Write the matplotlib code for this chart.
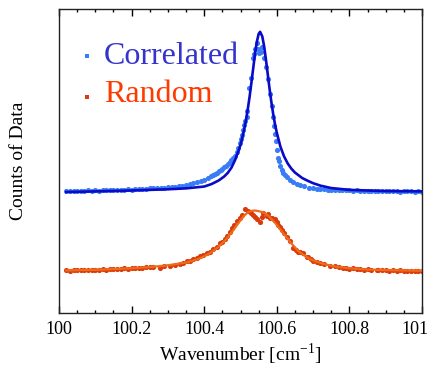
import matplotlib
matplotlib.use("Agg")
import matplotlib.pyplot as plt
from matplotlib.ticker import MultipleLocator
from matplotlib.transforms import ScaledTranslation

plt.rcParams['font.family'] = ['Liberation Serif', 'DejaVu Serif']
plt.rcParams['mathtext.fontset'] = 'custom'
plt.rcParams['mathtext.rm'] = 'Liberation Serif'

# ---------------- data ----------------
corr_x = [100.02, 100.03, 100.04, 100.05, 100.06, 100.07, 100.08, 100.09, 100.10,
          100.11, 100.12, 100.13, 100.14, 100.15, 100.16, 100.17, 100.18, 100.19, 100.20,
          100.21, 100.22, 100.23, 100.24, 100.25, 100.26, 100.27, 100.28, 100.29, 100.30,
          100.31, 100.32, 100.33, 100.34, 100.35, 100.36, 100.37, 100.38, 100.39, 100.40,
          100.41, 100.42, 100.425, 100.43, 100.435, 100.44, 100.445, 100.45, 100.455,
          100.46, 100.465, 100.47, 100.475, 100.48, 100.485, 100.49, 100.494, 100.4986,
          100.5005, 100.504, 100.508, 100.5096, 100.513, 100.517, 100.519, 100.523,
          100.528, 100.5336, 100.537, 100.54, 100.5446, 100.548, 100.552, 100.5565,
          100.56, 100.5656, 100.57, 100.5758, 100.5804, 100.586, 100.589, 100.592,
          100.595, 100.598, 100.601, 100.604, 100.607, 100.61, 100.6135, 100.618,
          100.6226, 100.628, 100.636, 100.645, 100.655, 100.664, 100.675, 100.69, 100.70,
          100.71, 100.72, 100.73, 100.74, 100.75, 100.76, 100.77, 100.78, 100.79, 100.80,
          100.81, 100.82, 100.83, 100.84, 100.85, 100.86, 100.87, 100.88, 100.89, 100.90,
          100.91, 100.92, 100.93, 100.94, 100.95, 100.96, 100.97, 100.98, 100.99, 101.00]
corr_y = [0.401, 0.400, 0.402, 0.401, 0.402, 0.401, 0.403, 0.402, 0.403,
          0.402, 0.404, 0.403, 0.404, 0.405, 0.404, 0.406, 0.405, 0.407, 0.406,
          0.408, 0.407, 0.409, 0.408, 0.410, 0.411, 0.410, 0.412, 0.411, 0.413,
          0.414, 0.416, 0.417, 0.419, 0.421, 0.423, 0.426, 0.430, 0.434, 0.438,
          0.444, 0.451, 0.454, 0.458, 0.462, 0.466, 0.469, 0.474, 0.480,
          0.485, 0.490, 0.497, 0.503, 0.509, 0.516, 0.528, 0.542, 0.558,
          0.571, 0.585, 0.602, 0.618, 0.630, 0.646, 0.665, 0.739,
          0.772, 0.838, 0.852, 0.867, 0.887, 0.870, 0.856, 0.860,
          0.874, 0.838, 0.810, 0.769, 0.720, 0.680, 0.646, 0.615,
          0.590, 0.565, 0.536, 0.510, 0.500, 0.485, 0.470, 0.462,
          0.454, 0.447, 0.438, 0.430, 0.425, 0.421, 0.417, 0.412, 0.410,
          0.409, 0.408, 0.407, 0.406, 0.405, 0.405, 0.404, 0.404, 0.403, 0.403,
          0.402, 0.403, 0.401, 0.402, 0.401, 0.402, 0.400, 0.401, 0.400, 0.401,
          0.400, 0.401, 0.400, 0.399, 0.400, 0.401, 0.400, 0.399, 0.400, 0.399]

corr_fit_x = [100.02, 100.10, 100.20, 100.30, 100.35, 100.40, 100.42, 100.44, 100.455,
              100.465, 100.475, 100.485, 100.495, 100.50, 100.505, 100.51, 100.515,
              100.52, 100.525, 100.53, 100.535, 100.54, 100.545, 100.55, 100.554,
              100.56, 100.565, 100.57, 100.575, 100.58, 100.585, 100.59, 100.595,
              100.60, 100.61, 100.62, 100.63, 100.64, 100.65, 100.67, 100.685, 100.70,
              100.72, 100.75, 100.80, 100.90, 101.00]
corr_fit_y = [0.398, 0.400, 0.403, 0.407, 0.410, 0.416, 0.424, 0.436, 0.449,
              0.461, 0.478, 0.503, 0.535, 0.553, 0.577, 0.603, 0.634,
              0.670, 0.711, 0.757, 0.805, 0.853, 0.892, 0.918, 0.925,
              0.910, 0.878, 0.834, 0.786, 0.738, 0.694, 0.655, 0.621,
              0.593, 0.547, 0.515, 0.492, 0.475, 0.462, 0.444, 0.435, 0.427,
              0.419, 0.411, 0.405, 0.401, 0.400]

rand_x = [100.02, 100.03, 100.04, 100.05, 100.06, 100.07, 100.08, 100.09, 100.10,
          100.11, 100.12, 100.13, 100.14, 100.15, 100.16, 100.17, 100.18, 100.19, 100.20,
          100.21, 100.22, 100.23, 100.24, 100.2507, 100.26, 100.278, 100.29, 100.306,
          100.32, 100.333, 100.342, 100.352, 100.36, 100.37, 100.38, 100.388, 100.397,
          100.407, 100.415, 100.425, 100.435, 100.4435, 100.45, 100.457, 100.464, 100.471,
          100.476, 100.483, 100.4895, 100.4986, 100.505, 100.512, 100.5215, 100.528,
          100.535, 100.54, 100.5446, 100.5537, 100.558, 100.563, 100.572, 100.577,
          100.581, 100.588, 100.595, 100.600, 100.604, 100.609, 100.6135, 100.62,
          100.627, 100.636, 100.645, 100.652, 100.659, 100.664, 100.673, 100.682,
          100.687, 100.695, 100.70, 100.71, 100.72, 100.73, 100.7466, 100.76, 100.77,
          100.783, 100.79, 100.80, 100.81, 100.82, 100.83, 100.84, 100.85, 100.86,
          100.875, 100.88, 100.89, 100.90, 100.91, 100.92, 100.93, 100.94, 100.95,
          100.96, 100.97, 100.98, 100.99, 100.999]
rand_y = [0.141, 0.139, 0.141, 0.140, 0.142, 0.141, 0.142, 0.141, 0.143,
          0.142, 0.144, 0.143, 0.145, 0.144, 0.146, 0.145, 0.147, 0.146, 0.148,
          0.147, 0.149, 0.148, 0.150, 0.152, 0.150, 0.149, 0.153, 0.156,
          0.157, 0.160, 0.164, 0.171, 0.170, 0.178, 0.180, 0.186, 0.190,
          0.197, 0.202, 0.210, 0.218, 0.230, 0.234, 0.244, 0.252, 0.266,
          0.279, 0.290, 0.303, 0.314, 0.322, 0.342, 0.336, 0.330,
          0.322, 0.315, 0.309, 0.300, 0.316, 0.328, 0.320, 0.325,
          0.311, 0.313, 0.309, 0.298, 0.289, 0.282, 0.273, 0.262,
          0.251, 0.237, 0.215, 0.206, 0.201, 0.202, 0.196, 0.185,
          0.184, 0.178, 0.172, 0.169, 0.165, 0.161, 0.155, 0.153, 0.150,
          0.147, 0.148, 0.146, 0.147, 0.144, 0.145, 0.143, 0.144, 0.142,
          0.141, 0.142, 0.140, 0.141, 0.139, 0.140, 0.139, 0.140, 0.138,
          0.139, 0.138, 0.139, 0.137, 0.138]

rand_fit_x = [100.02, 100.10, 100.20, 100.25, 100.30, 100.35, 100.38, 100.40, 100.42,
              100.44, 100.46, 100.48, 100.50, 100.51, 100.52, 100.53, 100.54, 100.55,
              100.56, 100.57, 100.58, 100.60, 100.62, 100.64, 100.66, 100.68, 100.70,
              100.73, 100.76, 100.80, 100.85, 100.90, 101.00]
rand_fit_y = [0.140, 0.142, 0.147, 0.151, 0.157, 0.166, 0.176, 0.186, 0.200,
              0.218, 0.242, 0.272, 0.305, 0.320, 0.331, 0.336, 0.337, 0.335,
              0.332, 0.326, 0.316, 0.290, 0.259, 0.229, 0.203, 0.185, 0.173,
              0.161, 0.153, 0.147, 0.143, 0.141, 0.139]

labels = ["Correlated", "Random"]
x_ticks = [100, 100.2, 100.4, 100.6, 100.8, 101]
x_tick_labels = ["100", "100.2", "100.4", "100.6", "100.8", "101"]

# ---------------- figure ----------------
fig = plt.figure(figsize=(4.34, 3.66), dpi=100)
ax = fig.add_axes([59/434, 53/366, 363/434, 304/366])

c_data = "#3A7CF5"
c_fit = "#0A0AC8"
r_data = "#D93B0A"
r_fit = "#F06A1A"

ax.plot(corr_x, corr_y, 'o', color=c_data, ms=3.7, mew=0, zorder=2)
ax.plot(corr_fit_x, corr_fit_y, '-', color=c_fit, lw=1.9, zorder=3)
ax.plot(rand_x, rand_y, 'o', color=r_data, ms=3.7, mew=0, zorder=2)
ax.plot(rand_fit_x, rand_fit_y, '-', color=r_fit, lw=1.6, zorder=3)

ax.set_xlim(100, 101)
ax.set_ylim(0, 1)
ax.set_xticks(x_ticks)
ax.set_xticklabels(x_tick_labels)
ax.xaxis.set_minor_locator(MultipleLocator(0.05))
ax.tick_params(axis='x', which='both', direction='in', top=True, bottom=True,
               labelsize=13, pad=6)
ax.tick_params(axis='x', which='major', length=5, width=1.0)
ax.tick_params(axis='x', which='minor', length=2.5, width=1.0)
ax.set_yticks([])
for s in ax.spines.values():
    s.set_linewidth(1.0)
    s.set_color('#222222')

# shift last tick label slightly left so it stays inside the figure
last = ax.get_xticklabels()[-1]
last.set_transform(last.get_transform() + ScaledTranslation(-7/100, 0, fig.dpi_scale_trans))

ax.set_ylabel("Counts of Data", fontsize=14, labelpad=23)
ax.set_xlabel(r"Wavenumber [cm$^{-1}$]", fontsize=14, labelpad=2)

# legend (text entries with small square markers)
ax.plot([0.0763], [0.845], 's', color=c_data, ms=2.6, mew=0, transform=ax.transAxes)
ax.plot([0.0763], [0.7105], 's', color=r_data, ms=2.6, mew=0, transform=ax.transAxes)
ax.text(0.124, 0.843, labels[0], color="#3434CC", fontsize=23,
        transform=ax.transAxes, va='center', ha='left')
ax.text(0.124, 0.718, labels[1], color="#FF3A00", fontsize=23,
        transform=ax.transAxes, va='center', ha='left')

fig.savefig("out.png", dpi=100)
